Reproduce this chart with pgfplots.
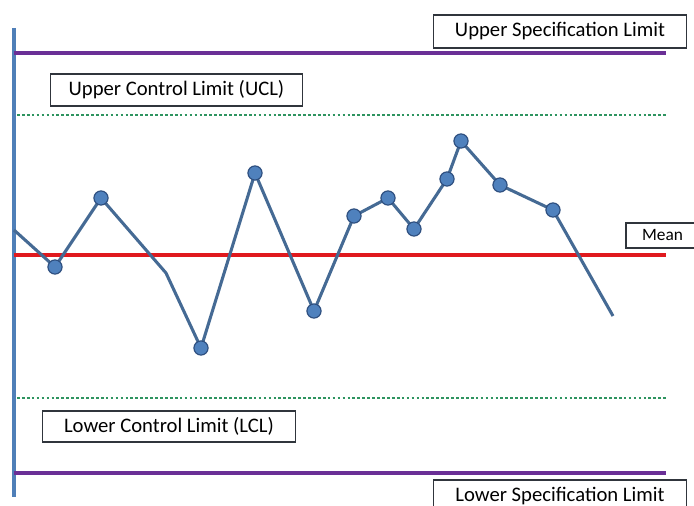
\documentclass[border=0pt]{standalone}
\usepackage{pgfplots}
\pgfplotsset{compat=1.18}
\usepackage{fontspec}
\setmainfont{Carlito}
\definecolor{axblue}{HTML}{4F7FB8}
\definecolor{lineblue}{HTML}{456A94}
\definecolor{mkfill}{HTML}{4F81BD}
\definecolor{mkdraw}{HTML}{2F5080}
\definecolor{specpurple}{HTML}{6A2F96}
\definecolor{meanred}{HTML}{E0191E}
\definecolor{ctrlgreen}{HTML}{2E9460}
\definecolor{boxline}{HTML}{30353C}
\begin{document}
\begin{tikzpicture}
\begin{axis}[
  name=main,
  scale only axis, width=520.5pt, height=379.5pt,
  xmin=0, xmax=694, ymin=0, ymax=506, y dir=reverse,
  hide axis, clip=false,
]
% vertical axis line
\addplot[axblue, line width=3pt] coordinates {(14,28) (14,497)};
% specification limits
\addplot[specpurple, line width=3pt] coordinates {(14,53) (666,53)};
\addplot[specpurple, line width=3pt] coordinates {(14,473) (666,473)};
% control limits
\addplot[ctrlgreen, line width=1.7pt, dash pattern=on 2pt off 1.7pt] coordinates {(17,115) (666,115)};
\addplot[ctrlgreen, line width=1.7pt, dash pattern=on 2pt off 1.7pt] coordinates {(17,398) (666,398)};
% mean
\addplot[meanred, line width=3.6pt] coordinates {(14,255) (666,255)};
% data line
\addplot[lineblue, line width=2.3pt, line join=round] coordinates {
(14,230) (55,267) (101,198) (166,273) (201,348) (255,173) (314,311) (354,216) (388,198) (414,229) (447,179) (461,141) (500,185) (553,210) (613,316)};
% markers
\addplot[only marks, mark=*, mark size=5.3pt, mark options={fill=mkfill, draw=mkdraw, line width=0.9pt}] coordinates {
(55,267) (101,198) (201,348) (255,173) (314,311) (354,216) (388,198) (414,229) (447,179) (461,141) (500,185) (553,210)};
% labels
\tikzset{lbl/.style={draw=boxline, line width=1.2pt, fill=white, inner sep=0pt, font=\fontsize{15.5}{18}\selectfont}}
\node[lbl, minimum width=190pt, minimum height=24.5pt] at (axis cs:560,31.5) {Upper Specification Limit};
\node[lbl, minimum width=189pt, minimum height=24pt] at (axis cs:176.5,90) {Upper Control Limit (UCL)};
\node[lbl, minimum width=190pt, minimum height=23pt] at (axis cs:169,426.5) {Lower Control Limit (LCL)};
\node[lbl, overlay, minimum width=190pt, minimum height=24.5pt] at (axis cs:560,496.5) {Lower Specification Limit};
\node[lbl, overlay, minimum width=55pt, minimum height=19pt, font=\fontsize{13}{15}\selectfont] at (axis cs:662.5,235.5) {Mean};
\end{axis}
\pgfresetboundingbox
\useasboundingbox (main.south west) rectangle (main.north east);
\end{tikzpicture}
\end{document}
